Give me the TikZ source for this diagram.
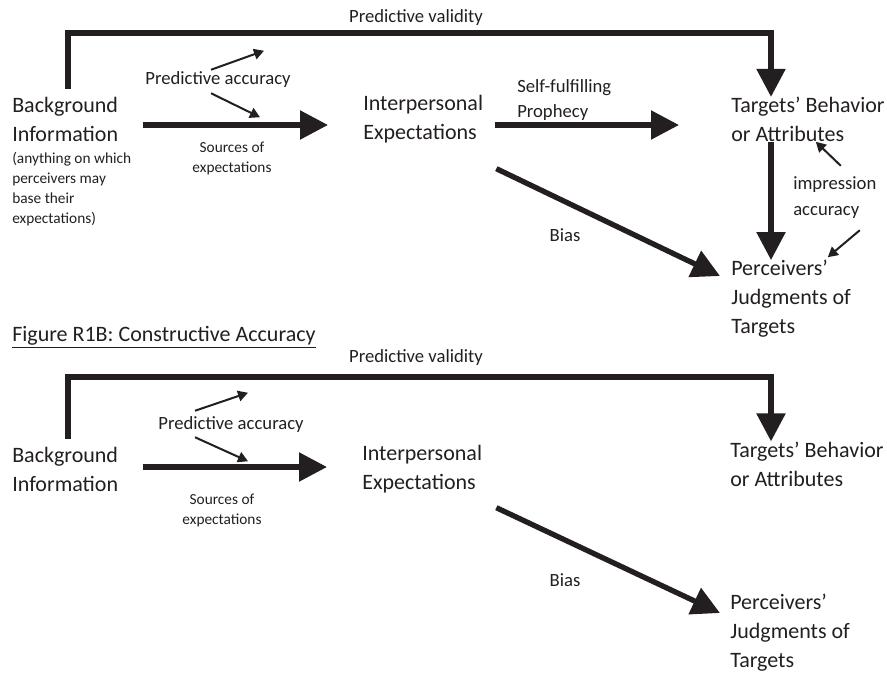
\documentclass[tikz,border=0pt]{standalone}
\usepackage{fontspec}
\setmainfont{Carlito}
\usetikzlibrary{arrows.meta}
\definecolor{ink}{HTML}{231F20}
\tikzset{
  maintext/.style={font=\fontsize{16.5}{21.75}\selectfont, align=left, inner sep=0pt, anchor=west, text=ink},
  notetext/.style={font=\fontsize{11.5}{15}\selectfont, align=left, inner sep=0pt, text=ink},
  labeltext/.style={font=\fontsize{14}{19}\selectfont, align=left, inner sep=0pt, text=ink},
  srctext/.style={font=\fontsize{11.5}{15}\selectfont, align=center, inner sep=0pt, text=ink},
  bigarrow/.style={draw=ink, line width=4pt, -{Triangle[length=21pt,width=21pt]}},
  bigline/.style={draw=ink, line width=4pt},
  smallarrow/.style={draw=ink, line width=1.5pt, -{Triangle[length=7.5pt,width=8pt]}}
}
\begin{document}
\begin{tikzpicture}[x=0.75pt, y=-0.75pt]
\useasboundingbox (0,0) rectangle (887,674);
% upper figure
\node[labeltext] (pvA) at (416,18) {Predictive validity};
\node[maintext] (bgA) at (12,119.5) {Background\\Information};
\node[notetext, anchor=north west] (noteA) at (12,152) {(anything on which\\perceivers may\\base their\\expectations)};
\node[labeltext] (paccA) at (218,80) {Predictive accuracy};
\node[srctext] (srcA) at (232,158) {Sources of\\expectations};
\node[maintext] (interA) at (363,119.5) {Interpersonal\\Expectations};
\node[labeltext, anchor=west, font=\fontsize{14}{19}\selectfont] (selfA) at (517,100) {Self-fulfilling\\Prophecy};
\node[maintext] (targA) at (731,119.5) {Targets’ Behavior\\or Attributes};
\node[labeltext, anchor=west, font=\fontsize{14}{19.5}\selectfont] (impA) at (793,198) {impression\\accuracy};
\node[labeltext] (biasA) at (565,235) {Bias};
\node[maintext] (percA) at (731,299) {Perceivers’\\Judgments of\\Targets};
\coordinate (cornerA) at (68,33);
\coordinate (vA) at (771,0);
\draw[bigarrow, shorten <=6pt] (bgA.north -| cornerA) -- (cornerA) -| (targA.north -| vA);
\draw[bigarrow, shorten <=18.75pt, shorten >=26.25pt] ([shift={(0,5.5)}]bgA.east) -- ([shift={(0,5.5)}]interA.west);
\draw[bigarrow, shorten <=9pt, shorten >=39pt] ([shift={(0,5.5)}]interA.east) -- ([shift={(0,5.5)}]targA.west);
\draw[bigarrow] ([shift={(13,25)}]interA.south east) -- ([shift={(-11,-23)}]percA.west);
\draw[bigarrow] (targA.south -| vA) -- (percA.north -| vA);
\draw[smallarrow] ([shift={(-7,-2)}]paccA.north) -- ++(53,-19);
\draw[smallarrow] ([shift={(-7,5)}]paccA.south) -- ++(49,24);
\draw[smallarrow] ([shift={(6,-11)}]impA.north) -- ++(-25,-24);
\draw[smallarrow] ([shift={(25,11)}]impA.south) -- ++(-32,27);
% title of lower figure
\node[maintext] (title) at (12,337) {\underline{Figure R1B: Constructive Accuracy}};
% lower figure
\node[labeltext] (pvB) at (416,358) {Predictive validity};
\node[labeltext] (paccB) at (231,425) {Predictive accuracy};
\node[maintext] (bgB) at (12,469.5) {Background\\Information};
\node[srctext] (srcB) at (222,510) {Sources of\\expectations};
\node[maintext] (interB) at (362,469.5) {Interpersonal\\Expectations};
\node[maintext] (targB) at (730,464) {Targets’ Behavior\\or Attributes};
\node[labeltext] (biasB) at (565,580) {Bias};
\node[maintext] (percB) at (730,633) {Perceivers’\\Judgments of\\Targets};
\coordinate (cornerB) at (68,377);
\draw[bigarrow, shorten <=6pt] (bgB.north -| cornerB) -- (cornerB) -| (targB.north -| vA);
\draw[bigarrow, shorten <=18.75pt, shorten >=26.25pt] ([shift={(0,-2.5)}]bgB.east) -- ([shift={(0,-2.5)}]interB.west);
\draw[bigarrow] ([shift={(14,14)}]interB.south east) -- ([shift={(-10,-20)}]percB.west);
\draw[smallarrow] ([shift={(-36,-6)}]paccB.north) -- ++(53,-18);
\draw[smallarrow] ([shift={(-36,4)}]paccB.south) -- ++(53,24);
\end{tikzpicture}
\end{document}
